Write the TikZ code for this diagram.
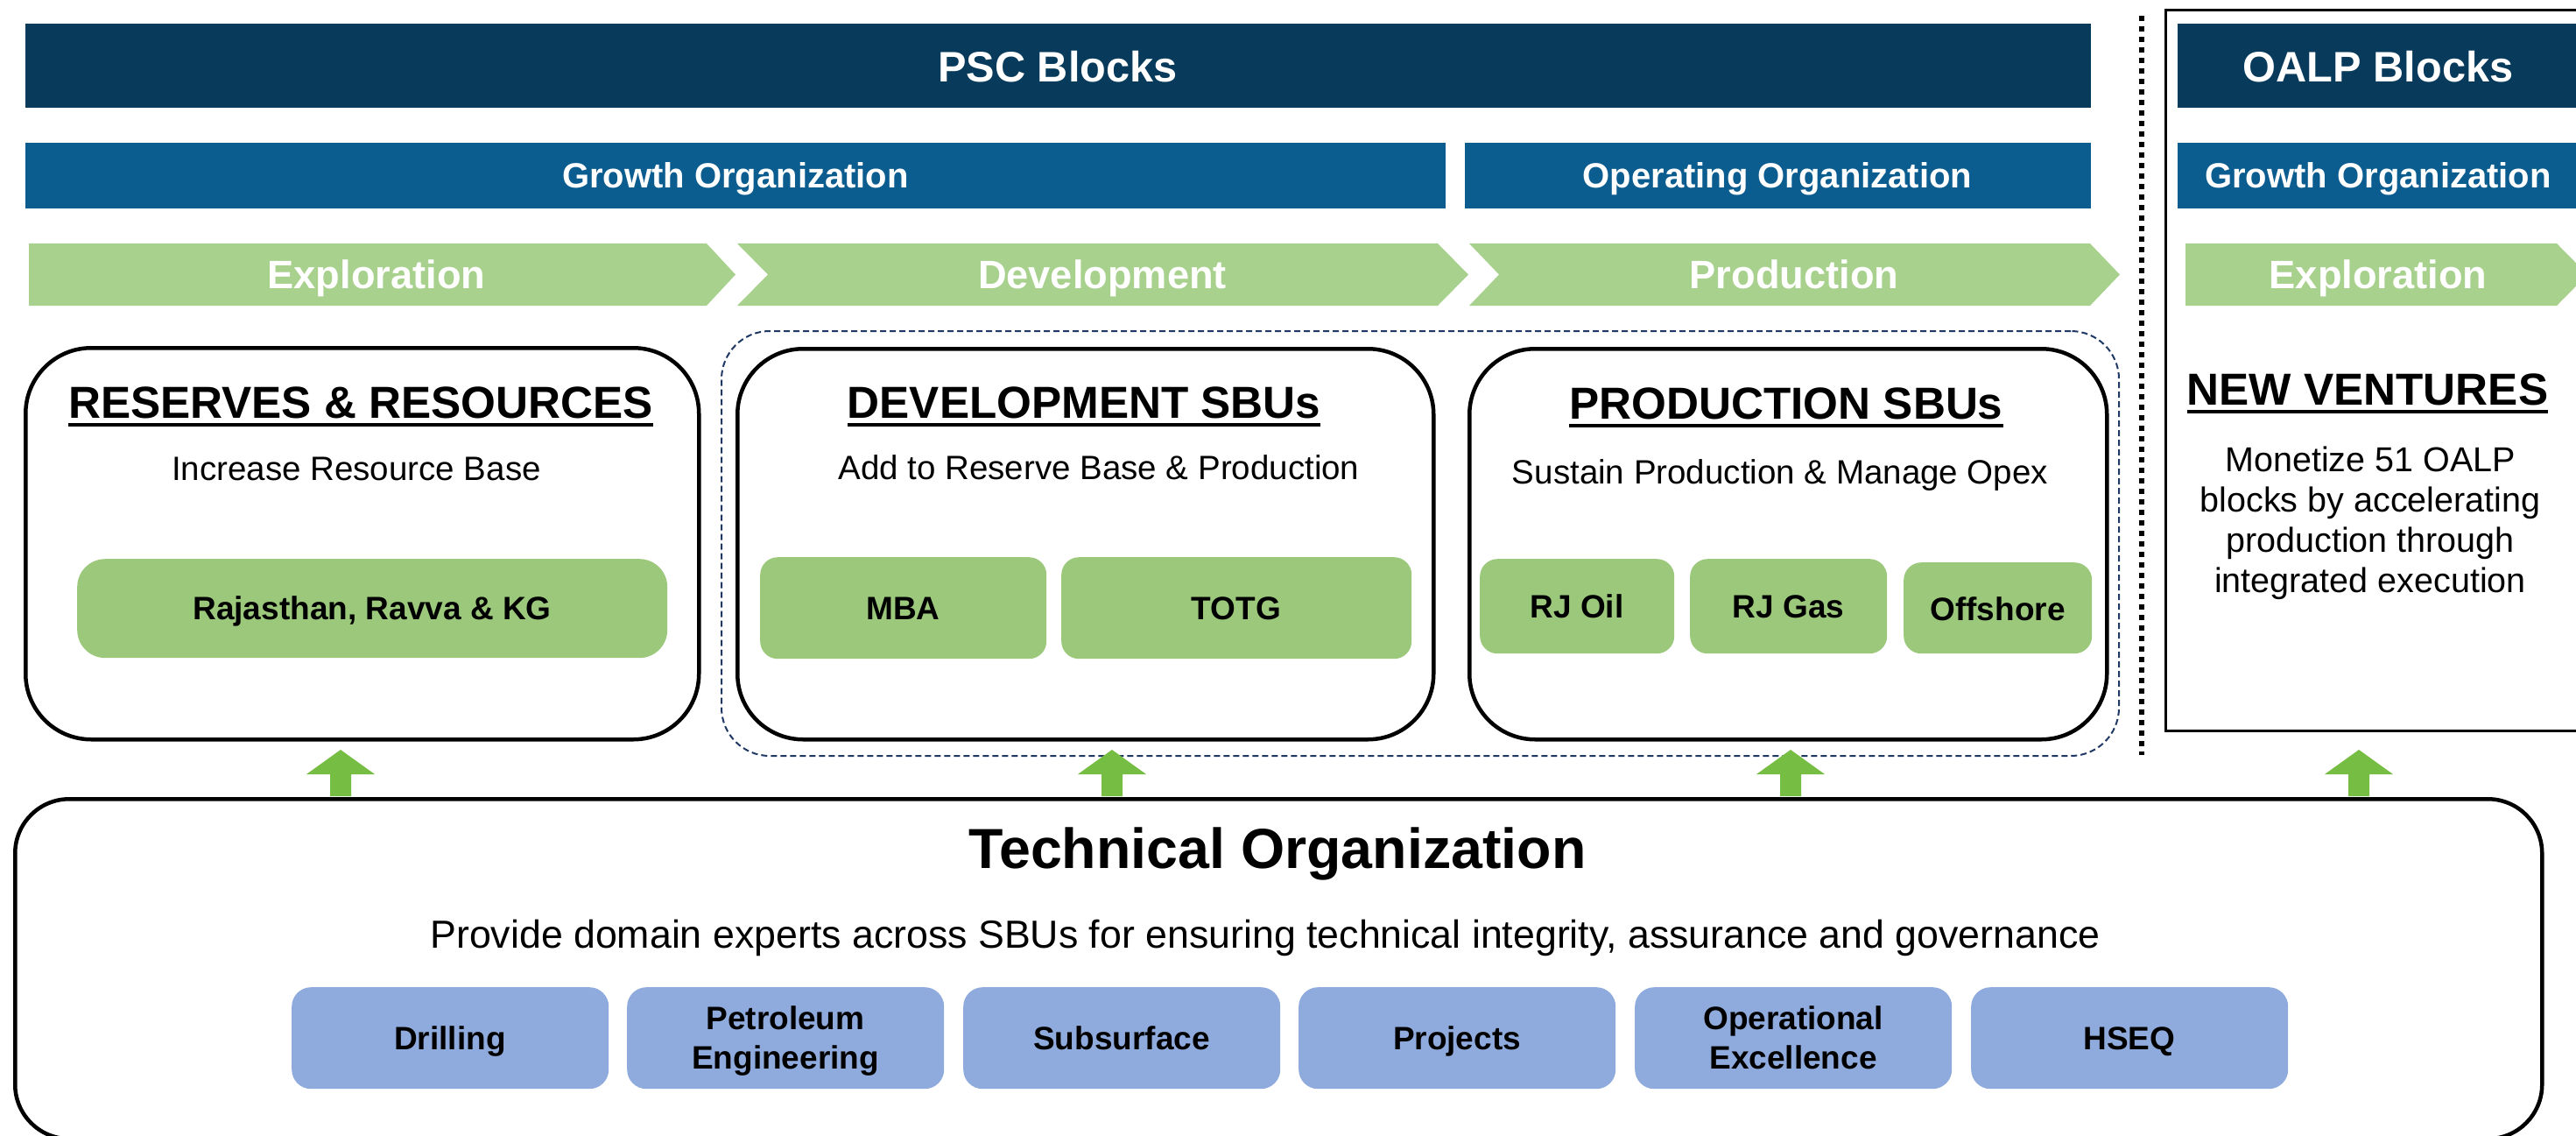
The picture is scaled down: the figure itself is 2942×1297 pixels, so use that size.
\documentclass[tikz,border=0pt]{standalone}
\usepackage{fontspec}
\setmainfont{Liberation Sans}
\newcommand{\fsz}[2]{\fontsize{#1}{#2}\selectfont}
\definecolor{navy}{RGB}{7,58,91}
\definecolor{midblue}{RGB}{11,92,143}
\definecolor{chev}{RGB}{169,209,142}
\definecolor{gbox}{RGB}{155,200,123}
\definecolor{garrow}{RGB}{118,189,67}
\definecolor{bbox}{RGB}{143,170,220}
\definecolor{dashnavy}{RGB}{31,56,100}
\tikzset{
  lbl/.style={inner sep=0pt, anchor=base},
  toptitle/.style={lbl, text=white, font=\bfseries\fsz{48.7}{58}},
  orgtitle/.style={lbl, text=white, font=\bfseries\fsz{40}{48}},
  chevtitle/.style={lbl, text=white, font=\bfseries\fsz{45.2}{54}},
  boxtitle/.style={lbl, font=\bfseries\fsz{51.2}{60}},
  subtitle/.style={lbl, font=\fsz{38.5}{46}},
  itemtext/.style={lbl, font=\bfseries\fsz{37}{45}},
  mainbox/.style={draw=black, line width=4.5pt, rounded corners=75pt, inner sep=0pt, anchor=north west},
  greenbox/.style={fill=gbox, rounded corners=20pt, inner sep=0pt, anchor=north west},
  bluebox/.style={fill=bbox, rounded corners=22pt, inner sep=0pt, anchor=north west, minimum width=362pt, minimum height=116pt},
  chevshape/.style={fill=chev},
  ulinestyle/.style={line width=4.5pt},
  uparrow/.style={fill=garrow}
}
\begin{document}
\begin{tikzpicture}[x=1pt,y=-1pt]
\useasboundingbox (0,0) rectangle (2942,1297);
\clip (0,0) rectangle (2942,1297);

% ---- top bars
\node[fill=navy, inner sep=0pt, anchor=north west, minimum width=2359pt, minimum height=96pt] (pscbar) at (29,27) {};
\node[fill=navy, inner sep=0pt, anchor=north west, minimum width=480pt, minimum height=96pt] (oalpbar) at (2487,27) {};
\node[toptitle] (psct) at (1208,94) {PSC Blocks};
\node[toptitle] (oalpt) at (2716,94) {OALP Blocks};

\node[fill=midblue, inner sep=0pt, anchor=north west, minimum width=1622pt, minimum height=75pt] (gobar) at (29,163) {};
\node[fill=midblue, inner sep=0pt, anchor=north west, minimum width=715pt, minimum height=75pt] (oobar) at (1673,163) {};
\node[fill=midblue, inner sep=0pt, anchor=north west, minimum width=480pt, minimum height=75pt] (go2bar) at (2487,163) {};
\node[orgtitle] (got) at (840,215) {Growth Organization};
\node[orgtitle] (oot) at (2030,215) {Operating Organization};
\node[orgtitle] (go2t) at (2716,215) {Growth Organization};

% ---- chevrons
\fill[chevshape] (33,278) -- (807,278) -- (840,313.5) -- (807,349) -- (33,349) -- cycle;
\fill[chevshape] (842,278) -- (1642,278) -- (1677,313.5) -- (1642,349) -- (842,349) -- (877,313.5) -- cycle;
\fill[chevshape] (1678,278) -- (2387,278) -- (2421,313.5) -- (2387,349) -- (1678,349) -- (1712,313.5) -- cycle;
\fill[chevshape] (2496,278) -- (2920,278) -- (2955,313.5) -- (2920,349) -- (2496,349) -- cycle;
\node[chevtitle] (exp1) at (430,330) {Exploration};
\node[chevtitle] (dev) at (1259,330) {Development};
\node[chevtitle] (prod) at (2049,330) {Production};
\node[chevtitle] (exp2) at (2716,330) {Exploration};

% ---- separators and frames
\draw[line width=6pt, dash pattern=on 6pt off 6pt] (2446,18) -- (2446,862);
\draw[line width=3pt] (2980,12) -- (2473,12) -- (2473,834) -- (2980,834);
\node[draw=dashnavy, line width=2pt, dash pattern=on 7pt off 4pt, rounded corners=55pt, inner sep=0pt, anchor=north west, minimum width=1596pt, minimum height=485pt] (sbugroup) at (823,377) {};

% ---- main boxes
\node[mainbox, minimum width=769pt, minimum height=447pt] (rr) at (27,395) {};
\node[mainbox, minimum width=795pt, minimum height=446pt] (devbox) at (840,396) {};
\node[mainbox, minimum width=728pt, minimum height=446pt] (prodbox) at (1676,396) {};

\node[boxtitle] (rrt) at (412,477) {RESERVES \& RESOURCES};
\node[boxtitle] (devt) at (1238,477) {DEVELOPMENT SBUs};
\node[boxtitle] (prodt) at (2040,478) {PRODUCTION SBUs};
\node[boxtitle] (nvt) at (2704,462) {NEW VENTURES};
\foreach \t in {rrt,devt,prodt,nvt}
  \draw[ulinestyle] ([yshift=-8pt]\t.base west) -- ([yshift=-8pt]\t.base east);

\node[subtitle] (rrs) at (407,548) {Increase Resource Base};
\node[subtitle] (devs) at (1255,547) {Add to Reserve Base \& Production};
\node[subtitle] (prods) at (2033,552) {Sustain Production \& Manage Opex};
\node[inner sep=0pt, anchor=north, align=center, font=\fsz{39.5}{46}] (nvs) at (2707,509.5)
  {Monetize 51 OALP\\blocks by accelerating\\production through\\integrated execution};

% ---- green boxes
\node[greenbox, rounded corners=32pt, minimum width=674pt, minimum height=113pt] (rrg) at (88,638) {};
\node[greenbox, minimum width=327pt, minimum height=116pt] (mba) at (868,636) {};
\node[greenbox, minimum width=400pt, minimum height=116pt] (totg) at (1212,636) {};
\node[greenbox, minimum width=222pt, minimum height=108pt] (rjoil) at (1690,638) {};
\node[greenbox, minimum width=225pt, minimum height=108pt] (rjgas) at (1930,638) {};
\node[greenbox, minimum width=215pt, minimum height=104pt] (offs) at (2174,642) {};
\node[itemtext] (rrgt) at (425,707) {Rajasthan, Ravva \& KG};
\node[itemtext] (mbat) at (1031.5,707) {MBA};
\node[itemtext] (totgt) at (1412,707) {TOTG};
\node[itemtext] (rjoilt) at (1801,705) {RJ Oil};
\node[itemtext] (rjgast) at (2042.5,705) {RJ Gas};
\node[itemtext] (offst) at (2281.5,708) {Offshore};

% ---- technical organization
\node[draw=black, line width=4.5pt, rounded corners=62pt, inner sep=0pt, anchor=north west, minimum width=2886pt, minimum height=388pt] (tech) at (15,910) {};
\node[lbl, font=\bfseries\fsz{64.5}{76}] (techt) at (1459,991) {Technical Organization};
\node[lbl, font=\fsz{44.7}{52}] (techs) at (1445,1082) {Provide domain experts across SBUs for ensuring technical integrity, assurance and governance};

\node[bluebox] (drill) at (333,1127) {};
\node[bluebox] (pe) at (716,1127) {};
\node[bluebox] (subs) at (1100,1127) {};
\node[bluebox] (proj) at (1483,1127) {};
\node[bluebox] (opex) at (1867,1127) {};
\node[bluebox] (hseq) at (2251,1127) {};
\node[itemtext] (drillt) at (514,1198) {Drilling};
\node[inner sep=0pt, anchor=north, align=center, font=\bfseries\fsz{37}{45}] (pet) at (897,1148.5) {Petroleum\\Engineering};
\node[itemtext] (subst) at (1281,1198) {Subsurface};
\node[itemtext] (projt) at (1664,1198) {Projects};
\node[inner sep=0pt, anchor=north, align=center, font=\bfseries\fsz{37}{45}] (opext) at (2048,1148.5) {Operational\\Excellence};
\node[itemtext] (hseqt) at (2432,1198) {HSEQ};

% ---- support arrows
\foreach \cx in {389,1270,2045,2694}
  \fill[uparrow] (\cx-12,909) -- (\cx-12,884) -- (\cx-39,884) -- (\cx,856) -- (\cx+39,884) -- (\cx+12,884) -- (\cx+12,909) -- cycle;
\end{tikzpicture}
\end{document}
